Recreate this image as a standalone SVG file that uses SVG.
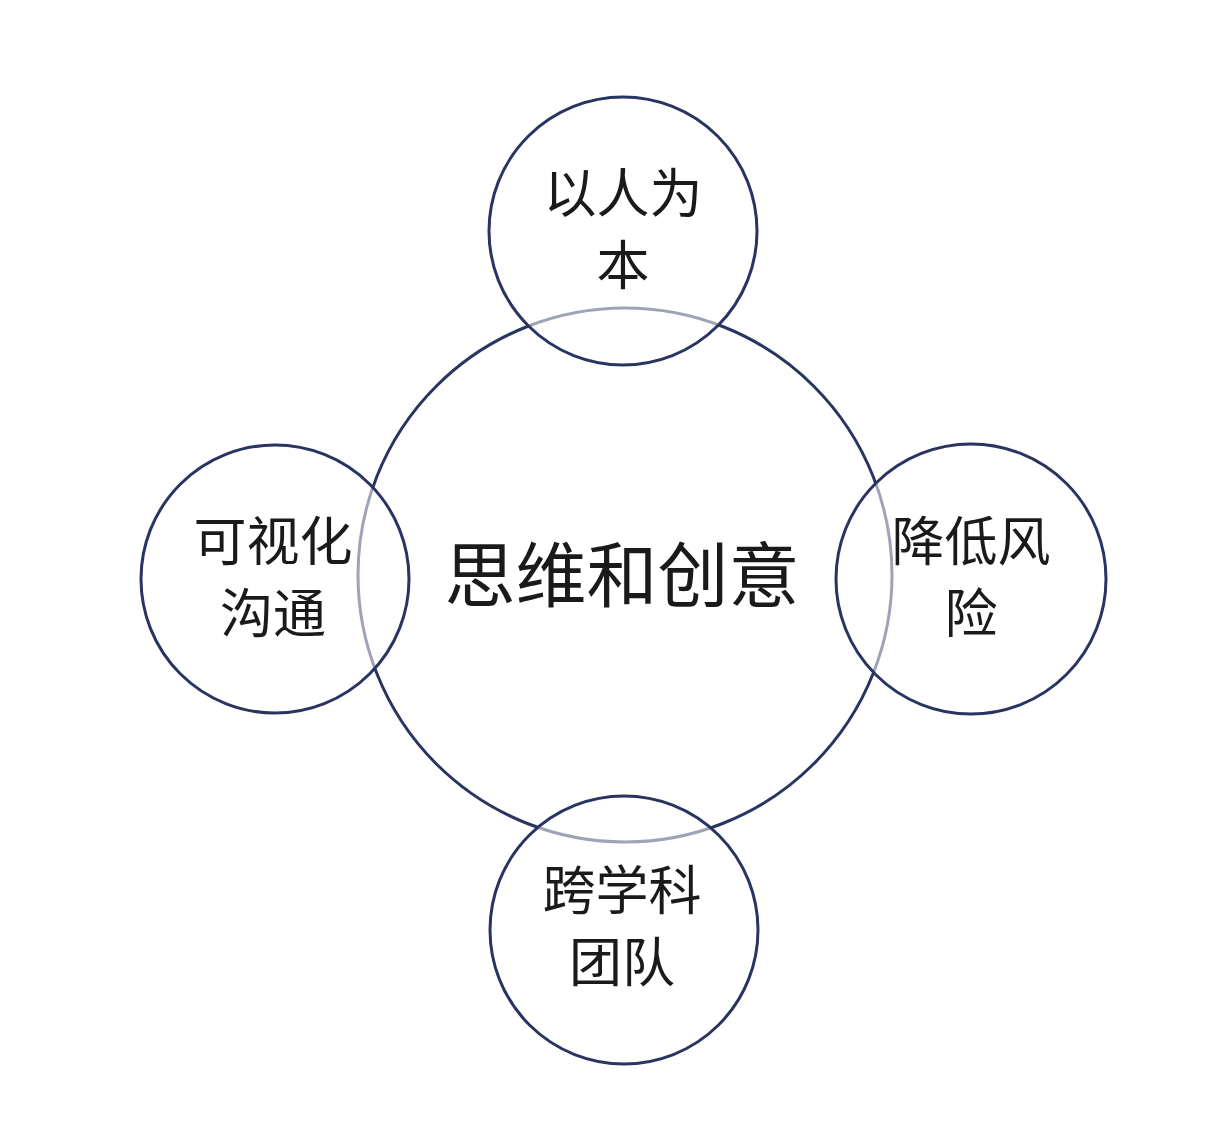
<svg xmlns="http://www.w3.org/2000/svg" width="1228" height="1132" viewBox="0 0 1228 1132">
<style>
.c{stroke:#2a3461;stroke-width:3;}
.s{fill:#ffffff;fill-opacity:0.55;}
text{font-family:"Noto Sans CJK SC",sans-serif;fill:#1a1a1a;text-anchor:middle;}
.t{font-size:53px;}
.m{font-size:71px;}
</style>
<rect width="1228" height="1132" fill="#ffffff"/>
<g id="center"><circle class="c" cx="625" cy="575" r="267" fill="#ffffff"/><text class="m" x="622" y="601">思维和创意</text></g>
<g id="top"><circle class="c s" cx="623" cy="231" r="134"/><text class="t" x="623" y="213">以人为</text><text class="t" x="623" y="285">本</text></g>
<g id="left"><circle class="c s" cx="275" cy="579" r="134"/><text class="t" x="273" y="561">可视化</text><text class="t" x="273" y="633">沟通</text></g>
<g id="right"><circle class="c s" cx="971" cy="579" r="135"/><text class="t" x="971" y="561">降低风</text><text class="t" x="971" y="633">险</text></g>
<g id="bottom"><circle class="c s" cx="624" cy="930" r="134"/><text class="t" x="622" y="910">跨学科</text><text class="t" x="622" y="982">团队</text></g>
<g id="connectors"></g>
</svg>
